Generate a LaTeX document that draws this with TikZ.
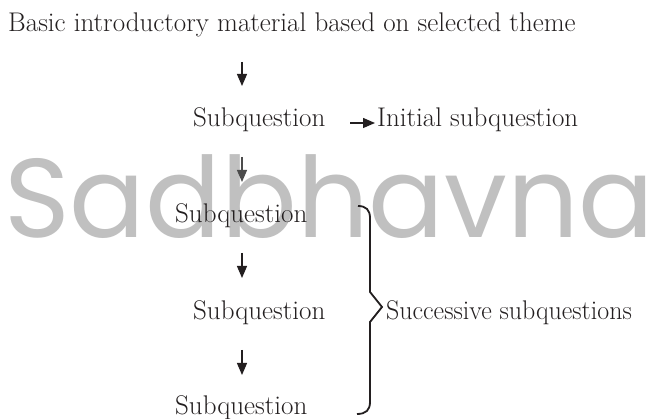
\documentclass[tikz,border=0pt]{standalone}
\usepackage{fontspec}
\newfontfamily\wmfont{Poppins}
\usetikzlibrary{arrows.meta}
\definecolor{ink}{HTML}{231F20}
\definecolor{wmgray}{HTML}{C0C0C0}
\begin{document}
\begin{tikzpicture}[x=1pt,y=-1pt,
  lbl/.style={anchor=base west, inner sep=0pt, text=ink, font=\fontsize{27}{30}\selectfont},
  wm/.style={anchor=base west, inner sep=0pt, text=wmgray, font=\wmfont\fontsize{112}{120}\selectfont},
  arr/.style={draw=ink, line width=1.3pt, -{Triangle[length=12pt,width=10pt]}},
  bracestyle/.style={draw=ink, line width=1.8pt, line join=miter}]
\useasboundingbox (0,0) rectangle (665,419);
\fill[white] (0,0) rectangle (665,419);
% watermark
\node[wm] (mark) at (4,238) {Sadbhavna};
% texts
\node[lbl] (title) at (8,32) {Basic introductory material based on selected theme};
\node[lbl] (q1) at (193,127) {Subquestion};
\node[lbl] (init) at (377,127) {Initial subquestion};
\node[lbl] (q2) at (175,223) {Subquestion};
\node[lbl] (q3) at (193,320) {Subquestion};
\node[lbl] (q4) at (175,415) {Subquestion};
\node[lbl, xscale=0.96] (succ) at (386,320) {Successive subquestions};
% arrow end points
\coordinate (a1s) at (242,62);  \coordinate (a1e) at (242,86);
\coordinate (a2s) at (242,157); \coordinate (a2e) at (242,182);
\coordinate (a3s) at (242,253); \coordinate (a3e) at (242,278);
\coordinate (a4s) at (242,350); \coordinate (a4e) at (242,375);
\coordinate (h1s) at (350,123); \coordinate (h1e) at (375,123);
\draw[arr] (a1s) -- (a1e);
\draw[arr, draw=black!70] (a2s) -- (a2e);
\draw[arr] (a3s) -- (a3e);
\draw[arr] (a4s) -- (a4e);
\draw[arr] (h1s) -- (h1e);
% brace
\coordinate (btop) at (358,206);
\coordinate (btip) at (382,307);
\coordinate (bbot) at (357,414);
\draw[bracestyle] (btop) .. controls (366,206) and (370,210) .. (370,218)
  -- (370,292) -- (btip) -- (370,322) -- (370,402)
  .. controls (370,410) and (366,414) .. (bbot);
\end{tikzpicture}
\end{document}
